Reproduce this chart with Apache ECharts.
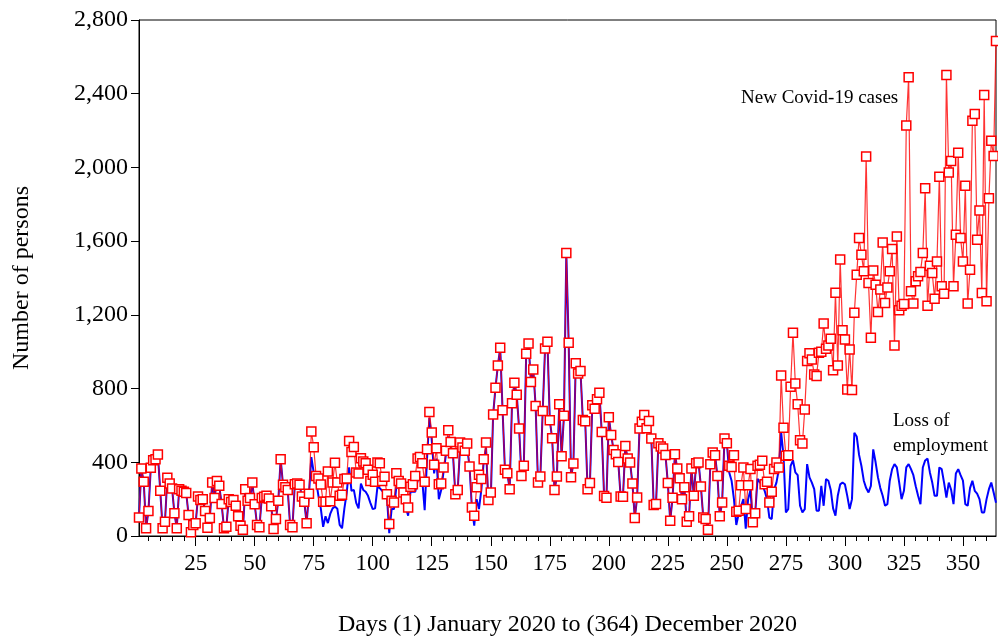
<!DOCTYPE html>
<html><head><meta charset="utf-8">
<script src="https://cdn.jsdelivr.net/npm/echarts@6/dist/echarts.min.js"></script>
<style>html,body{margin:0;padding:0;background:#fff}#c{width:998px;height:642px}</style>
</head><body><div id="c"></div>
<script>
// New Covid-19 cases, days 1..364
const covidCases = [
100,366,294,42,135,370,411,417,442,245,
42,77,316,285,258,124,42,254,245,240,
233,114,20,60,69,215,195,200,135,45,
97,290,206,299,272,173,42,50,200,185,
195,164,107,56,34,254,191,206,290,172,
60,47,206,213,218,204,161,38,92,191,
417,278,264,249,60,47,281,285,278,215,
186,69,229,567,482,326,312,280,186,186,
350,188,290,397,290,218,224,309,312,516,
456,483,345,339,422,404,395,359,299,332,
294,399,395,299,321,227,65,191,182,341,
299,285,236,200,155,267,281,326,420,429,
395,294,471,673,561,386,476,281,285,372,
462,574,510,449,226,249,507,480,462,502,
377,155,110,264,332,309,417,507,195,236,
659,805,925,1021,682,359,341,254,720,832,
767,583,326,381,989,1045,835,904,705,290,
323,678,1018,1054,628,530,249,323,715,433,
653,1536,1049,319,394,937,882,895,630,623,
254,287,709,691,742,778,565,217,207,644,
548,467,444,402,215,213,489,420,399,285,
97,209,583,620,657,585,624,529,168,173,
503,485,475,440,287,83,207,444,366,314,
200,264,77,107,366,218,395,399,269,101,
92,34,390,453,438,326,107,182,529,503,
381,375,438,132,137,276,372,146,276,363,
74,123,381,386,408,281,294,182,240,363,
399,372,871,588,435,438,810,1103,827,715,
520,502,687,949,991,958,877,868,994,1000,
1153,1016,1034,1070,900,1320,925,1500,1117,1066,
795,1012,792,1211,1417,1617,1526,1436,2059,1373,
1076,1441,1364,1216,1337,1593,1265,1348,1436,1557,
1034,1625,1225,1250,1259,2227,2490,1328,1261,1382,
1410,1433,1536,1887,1250,1467,1427,1287,1490,1950,
1355,1314,2501,1972,2035,1355,1635,2080,1617,1490,
1900,1261,1445,2253,2290,1608,1766,1319,2393,1274,
1833,2145,2062,2686
];
// Loss of employment, days 1..364
const jobLoss = [
100,366,294,42,135,370,411,417,442,245,
42,77,316,285,258,124,42,254,245,240,
233,114,20,60,69,215,195,200,135,45,
97,290,206,299,272,173,42,50,200,185,
195,164,107,56,34,254,191,206,290,172,
60,47,206,213,218,204,161,38,92,191,
417,278,264,249,60,47,281,285,278,215,
186,69,229,428,345,300,218,150,50,107,
70,120,150,160,148,60,42,150,236,372,
245,250,180,150,285,250,240,218,180,146,
150,267,260,245,230,218,15,146,146,267,
260,245,200,155,110,240,240,240,300,309,
300,140,420,640,520,340,420,200,250,350,
440,540,480,440,226,249,480,460,450,480,
377,155,56,200,146,250,400,480,173,200,
659,805,925,1021,682,359,341,254,720,832,
767,583,326,381,989,1045,835,904,705,290,
323,678,1018,1054,628,530,249,323,715,433,
653,1536,1049,319,394,937,882,895,630,623,
254,287,709,691,742,778,565,217,207,644,
548,467,444,402,215,213,489,420,399,285,
97,209,583,620,657,585,624,529,168,173,
503,485,475,440,287,83,207,444,366,314,
200,264,77,107,366,218,395,399,269,101,
92,34,390,453,438,326,107,182,529,503,
345,300,200,60,120,160,200,40,200,250,
70,123,310,290,280,245,200,100,92,254,
290,360,561,435,128,146,380,411,345,330,
164,128,146,390,318,290,254,137,137,272,
164,309,300,250,150,110,220,280,290,281,
218,146,200,560,540,440,380,300,260,236,
272,470,400,318,260,218,164,173,300,363,
390,372,290,200,245,372,390,363,330,270,
218,173,372,410,420,345,290,218,218,372,
363,290,209,290,250,173,339,363,330,300,
173,164,260,300,245,230,200,128,128,200,
254,290,236,180
];
const xMajorTicks = [25,50,75,100,125,150,175,200,225,250,275,300,325,350];
const xMinorTicks = [5,10,15,20,25,30,35,40,45,50,55,60,65,70,75,80,85,90,95,100,105,110,115,120,125,130,135,140,145,150,155,160,165,170,175,180,185,190,195,200,205,210,215,220,225,230,235,240,245,250,255,260,265,270,275,280,285,290,295,300,305,310,315,320,325,330,335,340,345,350,355,360];
const yTicks = [0,400,800,1200,1600,2000,2400,2800];

const FONT = '"Liberation Serif","Times New Roman",serif';
const pairs = arr => arr.map((v, i) => [i + 1, v]);

const chart = echarts.init(document.getElementById('c'), null, {renderer: 'canvas'});
chart.setOption({
  animation: false,
  backgroundColor: '#fff',
  grid: {left: 139, right: 2, top: 20, bottom: 105, show: true, borderColor: '#000', borderWidth: 1, containLabel: false},
  xAxis: [{
    type: 'value', min: 1, max: 364, position: 'bottom',
    name: 'Days (1) January 2020 to (364) December 2020',
    nameLocation: 'middle', nameGap: 77,
    nameTextStyle: {fontFamily: FONT, fontSize: 24, color: '#000'},
    axisLine: {show: true, lineStyle: {color: '#000', width: 1}},
    axisTick: {show: true, customValues: xMajorTicks, length: 10, lineStyle: {color: '#000'}},
    axisLabel: {show: true, customValues: xMajorTicks, fontFamily: FONT, fontSize: 23, color: '#000', margin: 16},
    splitLine: {show: false}
  }, {
    type: 'value', min: 1, max: 364, position: 'bottom', offset: 0,
    axisLine: {show: false},
    axisTick: {show: true, customValues: xMinorTicks, length: 5, lineStyle: {color: '#000'}},
    axisLabel: {show: false},
    splitLine: {show: false}
  }],
  yAxis: {
    type: 'value', min: 0, max: 2800, interval: 400,
    name: 'Number of persons', nameLocation: 'middle', nameGap: 105,
    nameTextStyle: {fontFamily: FONT, fontSize: 24, color: '#000'},
    axisLine: {show: true, lineStyle: {color: '#000', width: 1}},
    axisTick: {show: true, length: 8, lineStyle: {color: '#000'}},
    axisLabel: {fontFamily: FONT, fontSize: 24, color: '#000', margin: 11,
      formatter: v => yTicks.indexOf(v) >= 0 ? v.toLocaleString('en-US') : ''},
    splitLine: {show: false}
  },
  series: [{
    name: 'Loss of employment', type: 'line', xAxisIndex: 0, data: pairs(jobLoss),
    showSymbol: false, symbol: 'none',
    lineStyle: {color: '#0000ff', width: 2},
    z: 2
  }, {
    name: 'New Covid-19 cases', type: 'line', xAxisIndex: 0, data: pairs(covidCases),
    showSymbol: true, showAllSymbol: true, symbol: 'rect', symbolSize: 9,
    lineStyle: {color: 'rgba(255,0,0,0.8)', width: 1.2},
    itemStyle: {color: '#ffffff', borderColor: '#ff0000', borderWidth: 1.5},
    z: 3
  }],
  graphic: [
    {type: 'text', left: 741, top: 89, style: {text: 'New Covid-19 cases', font: '19px ' + FONT, fill: '#000'}},
    {type: 'text', left: 893, top: 412, style: {text: 'Loss of', font: '19px ' + FONT, fill: '#000'}},
    {type: 'text', left: 893, top: 437, style: {text: 'employment', font: '19px ' + FONT, fill: '#000'}}
  ]
});
</script>
</body></html>
